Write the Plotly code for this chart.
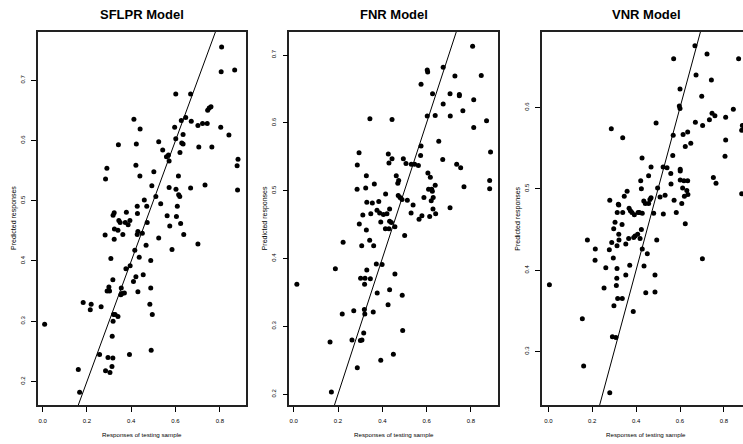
import plotly.graph_objects as go

# ---------------- data ----------------
# SFLPR Model
sflpr_x = [0.808, 0.806, 0.867, 0.601, 0.668, 0.745, 0.752, 0.760, 0.646, 0.626, 0.671, 0.701,
           0.722, 0.743, 0.804, 0.596, 0.412, 0.440, 0.841, 0.634, 0.601, 0.524, 0.628, 0.634,
           0.342, 0.423, 0.705, 0.764, 0.542, 0.620, 0.559, 0.568, 0.571, 0.882, 0.878, 0.290,
           0.421,
           0.284, 0.439, 0.502, 0.613, 0.493, 0.571, 0.602, 0.668, 0.733, 0.880, 0.511, 0.614,
           0.619, 0.459, 0.427, 0.470, 0.533, 0.608, 0.323, 0.318, 0.378, 0.428, 0.562, 0.604,
           0.344, 0.350, 0.373, 0.394, 0.386, 0.472, 0.623, 0.574, 0.324, 0.340, 0.430, 0.427,
           0.450, 0.362, 0.282, 0.637, 0.323, 0.524, 0.467, 0.701, 0.416, 0.584, 0.308, 0.436,
           0.488, 0.395, 0.376, 0.454, 0.421, 0.317,
           0.009, 0.161, 0.167, 0.183, 0.219, 0.215, 0.264, 0.257, 0.284, 0.295, 0.304, 0.313,
           0.317, 0.291, 0.302, 0.299, 0.314, 0.320, 0.327, 0.340, 0.318, 0.353, 0.358, 0.369,
           0.355, 0.392, 0.430, 0.410, 0.484, 0.488, 0.495, 0.490]
sflpr_y = [0.755, 0.714, 0.717, 0.677, 0.677, 0.650, 0.654, 0.656, 0.638, 0.633, 0.632, 0.625,
           0.628, 0.628, 0.622, 0.622, 0.635, 0.619, 0.609, 0.610, 0.603, 0.598, 0.596, 0.594,
           0.593, 0.594, 0.589, 0.589, 0.584, 0.580, 0.573, 0.576, 0.566, 0.569, 0.558, 0.554,
           0.559,
           0.536, 0.541, 0.548, 0.541, 0.525, 0.522, 0.519, 0.521, 0.526, 0.518, 0.507, 0.510,
           0.507, 0.501, 0.491, 0.491, 0.495, 0.491, 0.480, 0.476, 0.481, 0.479, 0.475, 0.474,
           0.467, 0.464, 0.464, 0.467, 0.460, 0.464, 0.462, 0.458, 0.453, 0.451, 0.449, 0.444,
           0.446, 0.444, 0.443, 0.444, 0.436, 0.438, 0.426, 0.428, 0.418, 0.419, 0.404, 0.406,
           0.401, 0.392, 0.387, 0.377, 0.374, 0.369,
           0.295, 0.220, 0.182, 0.331, 0.328, 0.319, 0.324, 0.245, 0.218, 0.240, 0.215, 0.225,
           0.239, 0.350, 0.350, 0.357, 0.275, 0.311, 0.311, 0.308, 0.300, 0.344, 0.346, 0.347,
           0.355, 0.245, 0.349, 0.366, 0.328, 0.355, 0.311, 0.252]

# FNR Model
fnr_x = [0.808, 0.847, 0.603, 0.605, 0.675, 0.728, 0.575, 0.627, 0.706, 0.748, 0.748, 0.813,
         0.675, 0.764, 0.639, 0.603, 0.707, 0.344, 0.444, 0.813, 0.871, 0.655, 0.575, 0.889,
         0.295, 0.573, 0.427, 0.430, 0.444, 0.495, 0.507, 0.531, 0.546, 0.563, 0.287, 0.673,
         0.736, 0.754,
         0.328, 0.463, 0.474, 0.470, 0.364, 0.606, 0.617, 0.639, 0.609, 0.623, 0.626, 0.769,
         0.885, 0.885, 0.286, 0.325, 0.415, 0.472, 0.480, 0.489, 0.513, 0.588, 0.630, 0.621,
         0.330, 0.355, 0.384, 0.539, 0.706, 0.433, 0.376, 0.388, 0.405, 0.421, 0.348, 0.312,
         0.530, 0.629, 0.641, 0.614, 0.579, 0.566, 0.393, 0.433, 0.441, 0.296, 0.457, 0.414,
         0.430, 0.328, 0.501, 0.343, 0.223, 0.307, 0.361, 0.399, 0.373, 0.188, 0.330, 0.457,
         0.302, 0.322, 0.346,
         0.014, 0.320, 0.377, 0.433, 0.490, 0.426, 0.219, 0.271, 0.319, 0.321, 0.359, 0.316,
         0.492, 0.164, 0.263, 0.301, 0.308, 0.393, 0.450, 0.287, 0.170]
fnr_y = [0.713, 0.670, 0.678, 0.675, 0.682, 0.669, 0.657, 0.643, 0.643, 0.642, 0.640, 0.634,
         0.628, 0.618, 0.611, 0.610, 0.610, 0.606, 0.605, 0.593, 0.603, 0.573, 0.566, 0.557,
         0.556, 0.552, 0.554, 0.541, 0.547, 0.547, 0.540, 0.539, 0.539, 0.537, 0.538, 0.546,
         0.539, 0.534,
         0.522, 0.522, 0.515, 0.511, 0.510, 0.526, 0.520, 0.508, 0.502, 0.502, 0.499, 0.506,
         0.515, 0.503, 0.502, 0.504, 0.495, 0.493, 0.490, 0.487, 0.486, 0.490, 0.490, 0.485,
         0.483, 0.482, 0.484, 0.479, 0.475, 0.473, 0.471, 0.467, 0.465, 0.466, 0.466, 0.464,
         0.467, 0.473, 0.466, 0.462, 0.463, 0.458, 0.454, 0.455, 0.453, 0.451, 0.447, 0.444,
         0.444, 0.442, 0.434, 0.427, 0.424, 0.419, 0.419, 0.391, 0.392, 0.385, 0.383, 0.377,
         0.371, 0.371, 0.370,
         0.362, 0.362, 0.349, 0.354, 0.346, 0.332, 0.318, 0.323, 0.325, 0.318, 0.321, 0.290,
         0.294, 0.277, 0.280, 0.279, 0.280, 0.250, 0.259, 0.239, 0.203]

# VNR Model
vnr_x = [0.668, 0.571, 0.723, 0.867, 0.673, 0.743, 0.600, 0.699, 0.597, 0.600, 0.843, 0.746,
         0.759, 0.734, 0.808, 0.670, 0.703, 0.884, 0.881, 0.287, 0.339, 0.491, 0.569, 0.614,
         0.635, 0.649, 0.624, 0.808, 0.567, 0.805, 0.427, 0.523, 0.541, 0.468, 0.601,
         0.421, 0.457, 0.424, 0.558, 0.601, 0.559, 0.601, 0.618, 0.635, 0.612, 0.631, 0.636,
         0.620, 0.752, 0.764, 0.881, 0.498, 0.359, 0.346, 0.468, 0.463, 0.435, 0.442, 0.457,
         0.509, 0.532, 0.573, 0.608, 0.280, 0.319, 0.321, 0.368, 0.374, 0.381, 0.392, 0.409,
         0.415, 0.428, 0.314, 0.339, 0.480, 0.524, 0.583, 0.304, 0.336, 0.624, 0.298, 0.424,
         0.321, 0.407, 0.389, 0.395, 0.366, 0.418, 0.322, 0.494, 0.178, 0.289, 0.313, 0.353,
         0.214, 0.278, 0.428, 0.451, 0.213, 0.296, 0.702, 0.371, 0.436, 0.262, 0.313, 0.353,
         0.312, 0.486,
         0.310, 0.254, 0.005, 0.444, 0.486, 0.316, 0.337, 0.299, 0.387, 0.155, 0.292, 0.308,
         0.161, 0.280]
vnr_y = [0.676, 0.660, 0.666, 0.660, 0.640, 0.634, 0.623, 0.614, 0.602, 0.599, 0.598, 0.593,
         0.590, 0.585, 0.588, 0.582, 0.578, 0.578, 0.572, 0.574, 0.563, 0.581, 0.566, 0.567,
         0.570, 0.556, 0.552, 0.560, 0.541, 0.540, 0.538, 0.527, 0.526, 0.527, 0.524,
         0.510, 0.516, 0.500, 0.519, 0.522, 0.506, 0.511, 0.510, 0.510, 0.501, 0.498, 0.493,
         0.491, 0.514, 0.507, 0.494, 0.501, 0.497, 0.491, 0.489, 0.487, 0.485, 0.482, 0.482,
         0.490, 0.492, 0.486, 0.482, 0.486, 0.481, 0.480, 0.476, 0.473, 0.471, 0.468, 0.471,
         0.471, 0.470, 0.471, 0.471, 0.470, 0.469, 0.471, 0.459, 0.456, 0.457, 0.451, 0.450,
         0.444, 0.444, 0.440, 0.442, 0.439, 0.439, 0.437, 0.437, 0.437, 0.434, 0.430, 0.432,
         0.426, 0.425, 0.426, 0.420, 0.412, 0.415, 0.414, 0.406, 0.405, 0.403, 0.402, 0.394,
         0.390, 0.394,
         0.381, 0.378, 0.382, 0.372, 0.373, 0.365, 0.365, 0.356, 0.349, 0.340, 0.318, 0.317,
         0.282, 0.249]

titles = ["SFLPR Model", "FNR Model", "VNR Model"]
x_label = "Responses of testing sample"
y_label = "Predicted responses"
x_ticks = [0.0, 0.2, 0.4, 0.6, 0.8]
y_ticks_1 = [0.2, 0.3, 0.4, 0.5, 0.6, 0.7]
y_ticks_2 = [0.2, 0.3, 0.4, 0.5, 0.6, 0.7]
y_ticks_3 = [0.3, 0.4, 0.5, 0.6]
ref_line = [0.0, 1.0]   # y = x reference line

panels = [
    dict(x=sflpr_x, y=sflpr_y, xr=[-0.021, 0.918], yr=[0.161, 0.780], yt=y_ticks_1,
         dom=[0.0, 0.2950], mirror_y=True),
    dict(x=fnr_x, y=fnr_y, xr=[-0.020, 0.924], yr=[0.184, 0.734], yt=y_ticks_2,
         dom=[0.3565, 0.6529], mirror_y=True),
    dict(x=vnr_x, y=vnr_y, xr=[-0.030, 0.887], yr=[0.234, 0.693], yt=y_ticks_3,
         dom=[0.7145, 1.0], mirror_y=False),
]

FONT = "Liberation Sans, Arial, Helvetica, sans-serif"
W, H = 743, 444
ML, MR, MT, MB = 38, 0, 32, 39
PW, PH = W - ML - MR, H - MT - MB

fig = go.Figure()
layout = dict(
    width=W, height=H,
    margin=dict(l=ML, r=MR, t=MT, b=MB, pad=0),
    paper_bgcolor="white", plot_bgcolor="white",
    showlegend=False,
    font=dict(family=FONT, color="black"),
)

annotations = []
for i, p in enumerate(panels):
    n = "" if i == 0 else str(i + 1)
    xa, ya = "x" + n, "y" + n
    fig.add_trace(go.Scatter(x=p["x"], y=p["y"], mode="markers", xaxis=xa, yaxis=ya,
                             marker=dict(color="black", size=5, line=dict(width=0))))
    fig.add_trace(go.Scatter(x=ref_line, y=ref_line, mode="lines", xaxis=xa, yaxis=ya,
                             line=dict(color="black", width=1)))
    layout["xaxis" + n] = dict(
        domain=p["dom"], range=p["xr"], anchor=ya,
        tickvals=x_ticks, ticktext=[f"{v:.1f}" for v in x_ticks],
        showgrid=False, zeroline=False, showline=True, linecolor="#222222", linewidth=1.5,
        mirror=True, ticks="outside", ticklen=5, tickwidth=1, tickcolor="black",
        tickfont=dict(size=6, family=FONT), ticklabelstandoff=4,
    )
    layout["yaxis" + n] = dict(
        domain=[0, 1], range=p["yr"], anchor=xa,
        tickvals=p["yt"], ticktext=[f"{v:.1f}" for v in p["yt"]],
        showgrid=False, zeroline=False, showline=True, linecolor="#222222", linewidth=1.5,
        mirror=p["mirror_y"], ticks="outside", ticklen=5, tickwidth=1, tickcolor="black",
        tickfont=dict(size=6, family=FONT), tickangle=-90, ticklabelstandoff=4,
    )
    left_px = ML + p["dom"][0] * PW
    right_px = ML + p["dom"][1] * PW
    if i == 2:
        right_px = left_px + 209
    cx = ((left_px + right_px) / 2 - ML) / PW
    annotations.append(dict(text="<b>" + titles[i] + "</b>", xref="paper", yref="paper",
                            x=cx, y=1 + (MT - 15) / PH, xanchor="center", yanchor="middle",
                            showarrow=False, font=dict(size=13, family=FONT)))
    annotations.append(dict(text=x_label, xref="paper", yref="paper",
                            x=cx, y=-(434 - (H - MB)) / PH, xanchor="center", yanchor="middle",
                            showarrow=False, font=dict(size=6.2, family=FONT)))
    annotations.append(dict(text=y_label, xref="paper", yref="paper", textangle=-90,
                            x=(left_px - 24.5 - ML) / PW, y=0.5, xanchor="center", yanchor="middle",
                            showarrow=False, font=dict(size=7, family=FONT)))

layout["annotations"] = annotations
fig.update_layout(**layout)
fig.write_html("out.html")
